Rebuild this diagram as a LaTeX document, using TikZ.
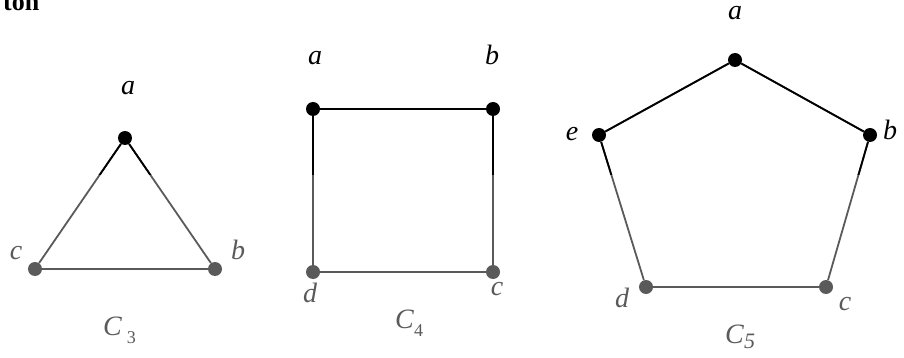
\documentclass[tikz,border=0pt]{standalone}
\usepackage{fontspec}
\setmainfont{Liberation Serif}
\usepackage{xcolor}
\usetikzlibrary{positioning}

\definecolor{lowgray}{HTML}{5A5A5A}

% all edges of the three cycles
\newcommand{\cycleedges}{%
    \foreach \u/\v in {c3a/c3b, c3b/c3c, c3c/c3a,
                       c4a/c4b, c4b/c4c, c4c/c4d, c4d/c4a,
                       c5a/c5b, c5b/c5c, c5c/c5d, c5d/c5e, c5e/c5a} {
        \draw[edge] (\u) -- (\v);
    }%
}

\begin{document}
\begin{tikzpicture}[
    x=1pt, y=-1pt,
    vertex/.style={circle, fill, minimum size=14pt, inner sep=0pt},
    upv/.style={vertex, black},
    lowv/.style={vertex, lowgray},
    edge/.style={line width=1.8pt},
    lbl/.style={font=\fontsize{28}{32}\selectfont\itshape, inner sep=0pt, anchor=base},
    uplbl/.style={lbl, black},
    lowlbl/.style={lbl, lowgray},
    cname/.style={font=\fontsize{28}{32}\selectfont, inner sep=0pt, anchor=base west, lowgray},
]
\useasboundingbox (0,0) rectangle (904,358);

% --- Heading (cut off) ---
\node[font=\fontsize{26}{30}\selectfont\bfseries, inner sep=0pt, anchor=base west] (title) at (3,11) {ton};

% --- C3 ---
\node[upv]  (c3a) at (125,138) {};
\node[lowv] (c3b) at (215,269) {};
\node[lowv] (c3c) at (35,269) {};
\node[uplbl]  (la3) at (128,95) {a};
\node[lowlbl] (lb3) at (238,259) {b};
\node[lowlbl] (lc3) at (16,259) {c};
\node[cname]  (n3) at (103,335) {\textit{C}\,\raisebox{-0.3em}{\fontsize{18}{20}\selectfont 3}};

% --- C4 ---
\node[upv]  (c4a) at (313,109) {};
\node[upv]  (c4b) at (493,109) {};
\node[lowv] (c4c) at (493,272) {};
\node[lowv] (c4d) at (313,272) {};
\node[uplbl]  (la4) at (315,65) {a};
\node[uplbl]  (lb4) at (492,65) {b};
\node[lowlbl] (lc4) at (497,295) {c};
\node[lowlbl] (ld4) at (310,302) {d};
\node[cname]  (n4) at (395,328) {\textit{C}\raisebox{-0.3em}{\fontsize{18}{20}\selectfont 4}};

% --- C5 ---
\node[upv]  (c5a) at (735,60) {};
\node[upv]  (c5b) at (870,135) {};
\node[lowv] (c5c) at (826,287) {};
\node[lowv] (c5d) at (646,287) {};
\node[upv]  (c5e) at (599,135) {};
\node[uplbl, text height=1ex] (la5) at (735,20) {a};
\node[uplbl]  (lb5) at (890,140) {b};
\node[lowlbl] (lc5) at (845,310) {c};
\node[lowlbl] (ld5) at (622,307) {d};
\node[uplbl]  (le5) at (572,141) {e};
\node[cname]  (n5) at (725,343) {\textit{C}\raisebox{-0.2em}{\fontsize{22}{24}\selectfont\itshape 5}};

% --- Edges: gray below, black above ---
\begin{scope}[lowgray]
    \cycleedges
\end{scope}
\begin{scope}
    \clip (0,0) rectangle (904,175);
    \cycleedges
\end{scope}

\end{tikzpicture}
\end{document}
